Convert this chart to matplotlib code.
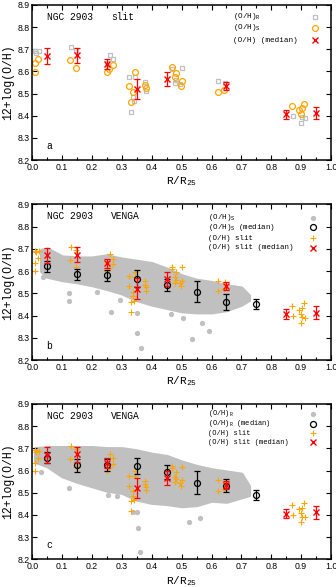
import matplotlib
matplotlib.use("Agg")
import matplotlib.pyplot as plt
import numpy as np

plt.rcParams['font.family'] = ['DejaVu Sans']
mono = 'Liberation Mono'
sans = 'Liberation Sans'

####----------------- slit data (panel a) -----------------
r_slit_R = [0.010, 0.023, 0.012, 0.128, 0.148, 0.250, 0.259, 0.269,
            0.325, 0.343, 0.329, 0.337, 0.340, 0.378, 0.380,
            0.467, 0.500, 0.477, 0.481, 0.496, 0.622, 0.644,
            0.872, 0.900, 0.912, 0.902]
oh_slit_R = [8.692, 8.690, 8.684, 8.710, 8.695, 8.636, 8.675, 8.655,
             8.577, 8.575, 8.416, 8.486, 8.466, 8.553, 8.511,
             8.610, 8.616, 8.548, 8.560, 8.545, 8.556, 8.550,
             8.398, 8.368, 8.390, 8.392]

r_slit_S = [0.009, 0.008, 0.018, 0.127, 0.148, 0.250, 0.258, 0.269,
            0.325, 0.344, 0.329, 0.337, 0.378, 0.380,
            0.467, 0.481, 0.477, 0.500, 0.498, 0.621, 0.642,
            0.871, 0.892, 0.903, 0.911, 0.900]
oh_slit_S = [8.636, 8.598, 8.657, 8.650, 8.616, 8.598, 8.613, 8.630,
             8.532, 8.597, 8.461, 8.506, 8.538, 8.527,
             8.619, 8.594, 8.573, 8.556, 8.532, 8.508, 8.517,
             8.443, 8.427, 8.433, 8.455, 8.409]

# slit medians (red crosses)
r_slit_med = [0.05, 0.15, 0.25, 0.35, 0.45, 0.65, 0.85, 0.95]
oh_slit_med = [8.670, 8.673, 8.634, 8.521, 8.565, 8.533, 8.406, 8.412]
err_slit_med = [0.035, 0.033, 0.021, 0.047, 0.031, 0.018, 0.022, 0.029]

####----------------- VENGA data (panels b, c) -----------------
r_bins = [0.05, 0.15, 0.25, 0.35, 0.45, 0.55, 0.65, 0.75]
oh_S_med = [8.621, 8.585, 8.581, 8.566, 8.537, 8.506, 8.461, 8.452]
err_S_med = [0.024, 0.025, 0.024, 0.040, 0.028, 0.047, 0.035, 0.021]
oh_R_med = [8.658, 8.624, 8.625, 8.619, 8.592, 8.546, 8.532, 8.491]
err_R_med = [0.026, 0.030, 0.027, 0.036, 0.032, 0.050, 0.030, 0.023]

# envelope of the dense spaxel cloud
r_env_S = [0.03, 0.05, 0.10, 0.15, 0.20, 0.25, 0.30, 0.35, 0.40, 0.45,
           0.50, 0.55, 0.60, 0.65, 0.70, 0.725]
top_env_S = [8.695, 8.700, 8.665, 8.660, 8.660, 8.670, 8.655, 8.645, 8.635,
             8.610, 8.580, 8.560, 8.550, 8.535, 8.525, 8.490]
bot_env_S = [8.600, 8.575, 8.560, 8.550, 8.537, 8.520, 8.500, 8.470, 8.450,
             8.435, 8.420, 8.415, 8.415, 8.425, 8.450, 8.470]
r_out_S = [0.035, 0.124, 0.124, 0.215, 0.263, 0.293, 0.351, 0.351, 0.364,
           0.463, 0.505, 0.536, 0.567, 0.592]
oh_out_S = [8.574, 8.500, 8.467, 8.507, 8.417, 8.470, 8.410, 8.320, 8.253,
            8.407, 8.387, 8.294, 8.365, 8.332]

r_env_R = [0.01, 0.05, 0.10, 0.15, 0.20, 0.25, 0.30, 0.35, 0.40, 0.45,
           0.50, 0.55, 0.60, 0.65, 0.70, 0.725]
top_env_R = [8.700, 8.705, 8.705, 8.705, 8.705, 8.700, 8.700, 8.690, 8.675,
             8.665, 8.640, 8.620, 8.605, 8.595, 8.585, 8.530]
bot_env_R = [8.640, 8.620, 8.575, 8.550, 8.530, 8.510, 8.500, 8.470, 8.455,
             8.450, 8.440, 8.445, 8.465, 8.460, 8.480, 8.490]
r_out_R = [0.029, 0.124, 0.223, 0.252, 0.282, 0.338, 0.352, 0.355, 0.362,
           0.460, 0.525, 0.561]
oh_out_R = [8.594, 8.520, 8.545, 8.490, 8.485, 8.415, 8.415, 8.340, 8.234,
            8.467, 8.370, 8.385]

gray = '#c0c0c0'
orange = '#ffa500'
red = '#ff0000'

fig = plt.figure(figsize=(3.36, 5.87), dpi=100)
ax_a = fig.add_axes([0.0961, 0.7274, 0.889, 0.2641])
ax_b = fig.add_axes([0.0961, 0.3867, 0.889, 0.2653])
ax_c = fig.add_axes([0.0961, 0.0472, 0.889, 0.2646])


def style_axes(ax, letter, title2):
    ax.set_xlim(0, 1)
    ax.set_ylim(8.2, 8.9)
    ax.set_xticks(np.arange(0, 1.01, 0.1))
    ax.set_xticks(np.arange(0.05, 1.0, 0.1), minor=True)
    ax.set_yticks(np.arange(8.2, 8.91, 0.1))
    ax.set_xticklabels(['%.1f' % v for v in np.arange(0, 1.01, 0.1)])
    ax.set_yticklabels(['%.1f' % v for v in np.arange(8.2, 8.91, 0.1)])
    ax.tick_params(which='both', direction='in', top=True, right=True,
                   labelsize=6.3, pad=2, width=0.8)
    ax.tick_params(which='major', length=3.5)
    ax.tick_params(which='minor', length=2)
    for lab in ax.get_xticklabels() + ax.get_yticklabels():
        lab.set_family(sans)
    for s in ax.spines.values():
        s.set_linewidth(1.1)
    ax.set_xlabel(r'R/R$_\mathregular{25}$', family=mono, fontsize=8, labelpad=2)
    ax.set_ylabel('12+log(O/H)', family=mono, fontsize=8.3, labelpad=2)
    ax.text(0.048, 0.955, 'NGC 2903', transform=ax.transAxes, family=mono,
            fontsize=6.9, va='top')
    ax.text(0.265, 0.955, title2, transform=ax.transAxes, family=mono,
            fontsize=6.9, va='top')
    ax.text(0.046, 0.09, letter, transform=ax.transAxes, family=mono,
            fontsize=7, va='center')


def key(ax, x_txt, x_mk, y, label, size, **mk):
    # gnuplot-like key entry: left aligned text, marker on the right
    ax.text(x_txt, y, label, transform=ax.transAxes, family=mono,
            fontsize=size, va='center', ha='left')
    ax.plot([x_mk], [y], transform=ax.transAxes, clip_on=False, ls='none',
            **mk)


sq_style = dict(marker='s', ms=3.3, mfc='none', mec=gray, mew=0.9)
circ_style = dict(marker='o', ms=4.2, mfc='none', mec=orange, mew=0.9)
x_style = dict(marker='x', ms=4.0, color=red, mew=1.0)
gdot_style = dict(marker='o', ms=3.8, color=gray, mew=0)
bcirc_style = dict(marker='o', ms=4.3, mfc='none', mec='black', mew=0.9)
plus_style = dict(marker='+', ms=4.0, color=orange, mew=0.8)

# ---- panel a
style_axes(ax_a, 'a', 'slit')
ax_a.plot(r_slit_R, oh_slit_R, ls='none', **sq_style)
ax_a.plot(r_slit_S, oh_slit_S, ls='none', **circ_style)
ax_a.errorbar(r_slit_med, oh_slit_med, yerr=err_slit_med, fmt='none',
              ecolor=red, elinewidth=0.9, capsize=2.2, capthick=0.9)
ax_a.plot(r_slit_med, oh_slit_med, ls='none', **x_style)
key(ax_a, 0.673, 0.947, 0.923, r'(O/H)$_\mathregular{R}$', 5.5, **sq_style)
key(ax_a, 0.673, 0.947, 0.852, r'(O/H)$_\mathregular{S}$', 5.5, **circ_style)
key(ax_a, 0.673, 0.947, 0.774, '(O/H) (median)', 5.5, **x_style)


def venga_panel(ax, letter, r_env, top_env, bot_env, r_out, oh_out,
                med, err, sub, rows, size):
    style_axes(ax, letter, 'VENGA')
    ax.fill_between(r_env, bot_env, top_env, facecolor=gray, lw=2.5,
                    edgecolor=gray, zorder=1)
    ax.plot(r_out, oh_out, ls='none', zorder=1, **gdot_style)
    ax.plot(r_slit_R + r_slit_S, oh_slit_R + oh_slit_S, ls='none',
            zorder=2, **plus_style)
    ax.errorbar(r_bins, med, yerr=err, fmt='none', ecolor='black',
                elinewidth=0.9, capsize=2.2, capthick=0.9, zorder=3)
    ax.plot(r_bins, med, ls='none', zorder=3, **bcirc_style)
    ax.errorbar(r_slit_med, oh_slit_med, yerr=err_slit_med, fmt='none',
                ecolor=red, elinewidth=0.9, capsize=2.2, capthick=0.9,
                zorder=4)
    ax.plot(r_slit_med, oh_slit_med, ls='none', zorder=4, **x_style)
    key(ax, 0.589, 0.939, rows[0], r'(O/H)$_\mathregular{%s}$' % sub, size,
        **gdot_style)
    key(ax, 0.589, 0.939, rows[1],
        r'(O/H)$_\mathregular{%s}$ (median)' % sub, size, **bcirc_style)
    key(ax, 0.589, 0.939, rows[2], '(O/H) slit', size, **plus_style)
    key(ax, 0.589, 0.939, rows[3], '(O/H) slit (median)', size, **x_style)


venga_panel(ax_b, 'b', r_env_S, top_env_S, bot_env_S, r_out_S, oh_out_S,
            oh_S_med, err_S_med, 'S', [0.914, 0.852, 0.781, 0.721], 5.4)
venga_panel(ax_c, 'c', r_env_R, top_env_R, bot_env_R, r_out_R, oh_out_R,
            oh_R_med, err_R_med, 'R', [0.937, 0.872, 0.810, 0.752], 5.0)

fig.savefig('out.png', dpi=100)
